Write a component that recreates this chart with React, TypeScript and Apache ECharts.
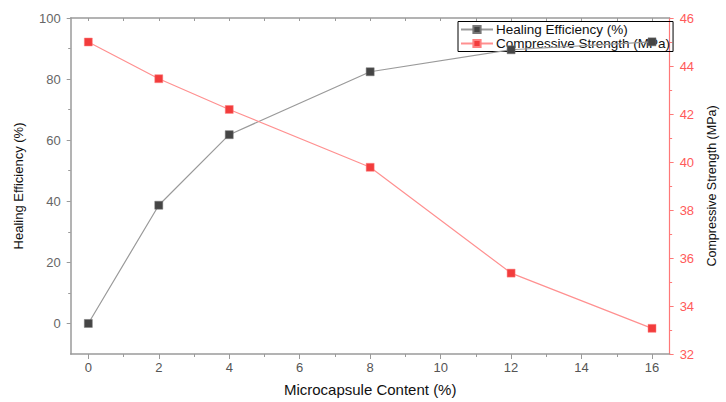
import React, { useEffect, useRef } from "react";
import * as echarts from "echarts";

const contents = [0, 2, 4, 8, 12, 16];
const healingEfficiency = [0, 38.7, 61.8, 82.4, 89.6, 92.2];
const compressiveStrength = [45.0, 43.47, 42.19, 39.78, 35.37, 33.07];
const xMajorTicks = [0, 2, 4, 6, 8, 10, 12, 14, 16];
const xMinorTicks = [1, 3, 5, 7, 9, 11, 13, 15];
const xAllTicks = [0, 1, 2, 3, 4, 5, 6, 7, 8, 9, 10, 11, 12, 13, 14, 15, 16];
const leftMajorTicks = [0, 20, 40, 60, 80, 100];
const leftMinorTicks = [10, 30, 50, 70, 90];

const FONT = "'Liberation Sans', Arial, sans-serif";
const GRAY = "#9a9a9a";
const RED_AXIS = "#ff7878";

export default function App() {
  const ref = useRef<HTMLDivElement>(null);
  useEffect(() => {
    if (!ref.current) return;
    const chart = echarts.init(ref.current, null, { renderer: "svg" });
    chart.setOption({
      animation: false,
      backgroundColor: "#ffffff",
      textStyle: { fontFamily: FONT },
      grid: { left: 70.7, right: 43.3, top: 18, bottom: 42, containLabel: false },
      legend: {
        left: 458,
        top: 21.5,
        orient: "vertical",
        z: 1,
        padding: [1, 3, 1, 2],
        itemGap: 0,
        itemWidth: 32,
        itemHeight: 9,
        borderColor: "#000",
        borderWidth: 1,
        backgroundColor: "transparent",
        textStyle: { fontFamily: FONT, fontSize: 13.5, lineHeight: 14, color: "#111", padding: [0, 0, 0, -2] },
        data: ["Healing Efficiency (%)", "Compressive Strength (MPa)"],
      },
      xAxis: [
        {
          type: "value",
          position: "bottom",
          min: -0.5,
          max: 16.5,
          name: "Microcapsule Content (%)",
          nameLocation: "middle",
          nameGap: 28,
          nameTextStyle: { fontFamily: FONT, fontSize: 15, color: "#111" },
          axisLine: { show: true, onZero: false, lineStyle: { color: GRAY, width: 1.5 } },
          axisTick: { show: true, customValues: xMajorTicks, length: 5, lineStyle: { color: GRAY } },
          axisLabel: { customValues: xMajorTicks, margin: 7, fontSize: 13, color: "#555", fontFamily: FONT },
          splitLine: { show: false },
        },
        {
          type: "value",
          position: "bottom",
          min: -0.5,
          max: 16.5,
          axisLine: { show: false, onZero: false },
          axisTick: { show: true, customValues: xMinorTicks, length: 3, lineStyle: { color: GRAY } },
          axisLabel: { show: false },
          splitLine: { show: false },
        },
        {
          type: "value",
          position: "top",
          min: -0.5,
          max: 16.5,
          axisLine: { show: true, onZero: false, lineStyle: { color: GRAY, width: 1.5 } },
          axisTick: { show: true, inside: true, customValues: xAllTicks, length: 3, lineStyle: { color: GRAY } },
          axisLabel: { show: false },
          splitLine: { show: false },
        },
      ],
      yAxis: [
        {
          type: "value",
          position: "left",
          min: -10,
          max: 100,
          name: "Healing Efficiency (%)",
          nameLocation: "middle",
          nameGap: 46,
          nameTextStyle: { fontFamily: FONT, fontSize: 13, color: "#111" },
          axisLine: { show: true, onZero: false, lineStyle: { color: GRAY, width: 1.5 } },
          axisTick: { show: true, customValues: leftMajorTicks, length: 4, lineStyle: { color: GRAY } },
          axisLabel: { customValues: leftMajorTicks, margin: 10, fontSize: 13, color: "#666", fontFamily: FONT },
          splitLine: { show: false },
        },
        {
          type: "value",
          position: "right",
          min: 32,
          max: 46,
          interval: 2,
          name: "Compressive Strength (MPa)",
          nameLocation: "middle",
          nameGap: 32,
          nameRotate: 90,
          nameTextStyle: { fontFamily: FONT, fontSize: 12.5, color: "#111" },
          axisLine: { show: true, onZero: false, lineStyle: { color: RED_AXIS, width: 1.2 } },
          axisTick: { show: true, length: 4, lineStyle: { color: RED_AXIS } },
          minorTick: { show: true, splitNumber: 2, length: 2.5, lineStyle: { color: RED_AXIS } },
          axisLabel: { margin: 10, fontSize: 13, color: "#ff5a5a", fontFamily: FONT },
          splitLine: { show: false },
          minorSplitLine: { show: false },
        },
        {
          type: "value",
          position: "left",
          min: -10,
          max: 100,
          axisLine: { show: false, onZero: false },
          axisTick: { show: true, customValues: leftMinorTicks, length: 2.5, lineStyle: { color: GRAY } },
          axisLabel: { show: false },
          splitLine: { show: false },
        },
      ],
      series: [
        {
          name: "Healing Efficiency (%)",
          type: "line",
          xAxisIndex: 0,
          yAxisIndex: 0,
          z: 5,
          data: contents.map((c, i) => [c, healingEfficiency[i]]),
          symbol: "rect",
          symbolSize: 8,
          lineStyle: { color: "#9a9a9a", width: 1.2 },
          itemStyle: { color: "#454545", borderColor: "#777", borderWidth: 0.5 },
        },
        {
          name: "Compressive Strength (MPa)",
          type: "line",
          xAxisIndex: 0,
          yAxisIndex: 1,
          z: 5,
          data: contents.map((c, i) => [c, compressiveStrength[i]]),
          symbol: "rect",
          symbolSize: 8,
          lineStyle: { color: "#ff9090", width: 1.2 },
          itemStyle: { color: "#f23c3c", borderColor: "#ff8080", borderWidth: 0.5 },
        },
      ],
    });
    return () => chart.dispose();
  }, []);
  return (
    <div
      ref={ref}
      style={{ position: "fixed", left: 0, top: 0, width: 726, height: 402, background: "#fff" }}
    />
  );
}
